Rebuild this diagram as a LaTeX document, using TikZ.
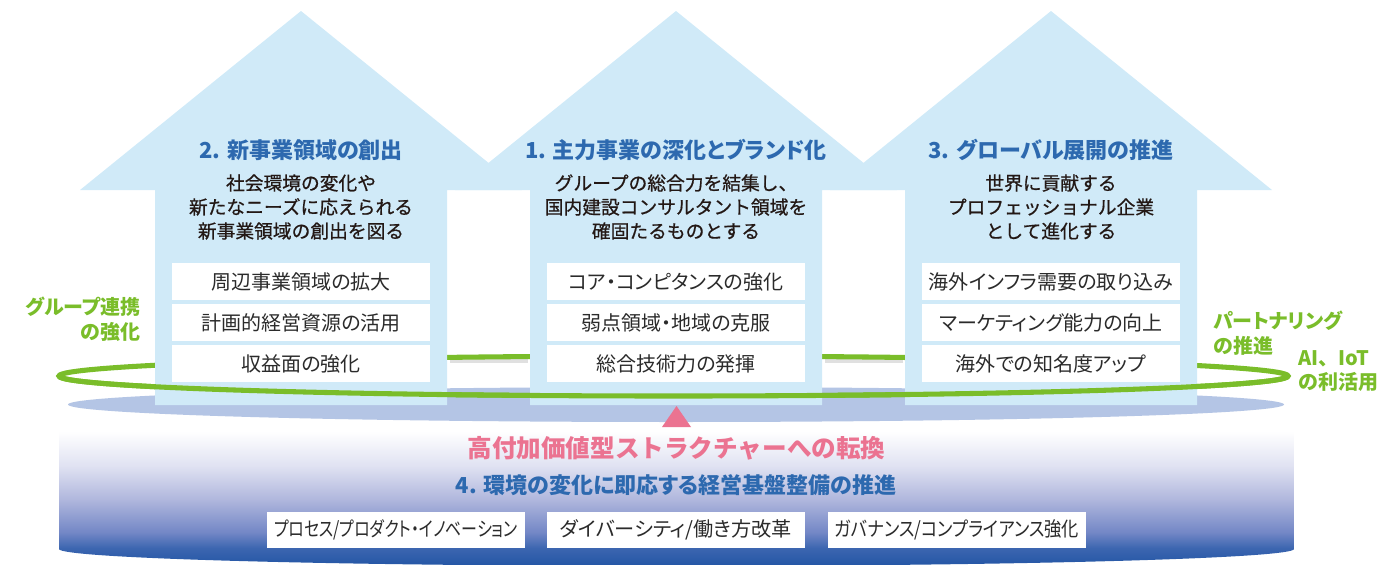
\documentclass[tikz,border=0pt]{standalone}
\usepackage{fontspec}
\usepackage{graphicx}
\setmainfont{Noto Sans CJK JP}
\newfontfamily\jpp{Noto Sans CJK JP}[RawFeature=+palt]
\newfontfamily\jpmed{Noto Sans CJK JP}[FakeBold=0.7]
\definecolor{housefill}{HTML}{D0EAF8}
\definecolor{lav}{HTML}{B4C5E5}
\definecolor{ringgreen}{HTML}{7ABD2A}
\definecolor{titleblue}{HTML}{2D69AF}
\definecolor{pinkc}{HTML}{EB7391}
\definecolor{ink}{HTML}{231815}
\definecolor{boxink}{HTML}{2B2B2B}
\definecolor{cyA}{RGB}{35,85,165}
\definecolor{cyB}{RGB}{60,102,176}
\definecolor{cyC}{RGB}{115,135,198}
\definecolor{cyD}{RGB}{176,183,221}
\definecolor{cyE}{RGB}{224,226,242}
\pgfdeclareverticalshading{cylshade}{100bp}{color(0bp)=(cyA); color(25bp)=(cyA); color(30bp)=(cyB); color(34.4bp)=(cyC); color(43.6bp)=(cyD); color(53bp)=(cyE); color(62.6bp)=(white); color(100bp)=(white)}
\tikzset{
  ring/.style={draw=ringgreen, line width=3.8pt, line cap=round},
  housetitle/.style={inner sep=0pt, text=titleblue, font=\jpp\bfseries\fontsize{16.5}{20}\selectfont},
  subtext/.style={inner sep=0pt, text=ink, align=center, font=\jpmed\fontsize{14.06}{18}\selectfont},
  itembox/.style={fill=white, minimum width=193.5pt, minimum height=27.6pt, inner sep=0pt, text=boxink, font=\jpp\fontsize{15}{18}\selectfont},
  greenlbl/.style={inner sep=0pt, text=ringgreen, font=\jpp\bfseries\fontsize{15}{18.5}\selectfont},
  pinklbl/.style={inner sep=0pt, text=pinkc, font=\bfseries\fontsize{18.45}{22}\selectfont},
  basetitle/.style={inner sep=0pt, text=titleblue, font=\jpp\bfseries\fontsize{16.5}{20}\selectfont},
  basebox/.style={fill=white, minimum width=193.5pt, minimum height=27pt, inner sep=0pt, text=boxink, font=\jpp\fontsize{15}{18}\selectfont},
  ringshadow/.style={draw=black, opacity=0.12, line width=3pt}
}
\begin{document}
\begin{tikzpicture}[x=0.75pt, y=-0.75pt]
\useasboundingbox (0,0) rectangle (1391,564);
% cylinder body
\shade[shading=cylshade] (59,404) -- (59,549) arc[start angle=180, end angle=0, x radius=617.5, y radius=17] -- (1294,404) arc[start angle=0, end angle=-180, x radius=617.5, y radius=17] -- cycle;
% cylinder top
\fill[lav] (676,404.5) ellipse[x radius=608, y radius=17.5];
% ring (back part) with soft shadow
\draw[ringshadow] (450,361) -- (528,361);
\draw[ringshadow] (825,361) -- (903,361);
\draw[ring] (673.5,376) ellipse[x radius=614.5, y radius=20];
% houses
\foreach \c in {301,676,1051}
  \fill[housefill] (\c,11) -- ++(221,179) -- ++(-75,0) -- ++(0,215) -- ++(-292,0) -- ++(0,-215) -- ++(-75,0) -- cycle;
% ring (front part)
\draw[ring] (59,376) arc[start angle=180, end angle=0, x radius=614.5, y radius=20];
% arrow triangle
\fill[pinkc] (662,427) -- (676.5,406) -- (691,427) -- cycle;

% house 2
\node[housetitle] (t2) at (301,150) {2. 新事業領域の創出};
\node[subtext] (s2) at (301,207) {社会環境の変化や\\新たなニーズに応えられる\\新事業領域の創出を図る};
\node[itembox] (b2a) at (301,281.5) {周辺事業領域の拡大};
\node[itembox] (b2b) at (301,322.5) {計画的経営資源の活用};
\node[itembox] (b2c) at (301,363.5) {収益面の強化};
% house 1
\node[housetitle] (t1) at (676,150) {1. 主力事業の深化とブランド化};
\node[subtext] (s1) at (676,207) {グループの総合力を結集し、\\国内建設コンサルタント領域を\\確固たるものとする};
\node[itembox] (b1a) at (676,281.5) {コア・コンピタンスの強化};
\node[itembox] (b1b) at (676,322.5) {弱点領域・地域の克服};
\node[itembox] (b1c) at (676,363.5) {総合技術力の発揮};
% house 3
\node[housetitle] (t3) at (1051,150) {3. グローバル展開の推進};
\node[subtext] (s3) at (1051,207) {世界に貢献する\\プロフェッショナル企業\\として進化する};
\node[itembox] (b3a) at (1051,281.5) {海外インフラ需要の取り込み};
\node[itembox] (b3b) at (1051,322.5) {マーケティング能力の向上};
\node[itembox] (b3c) at (1051,363.5) {海外での知名度アップ};

% green labels
\node[greenlbl, align=right, anchor=east] (g1) at (141,319.5) {グループ連携\\の強化};
\node[greenlbl, align=left, anchor=west] (g2) at (1213,333) {パートナリング\\の推進};
\node[greenlbl, align=left, anchor=west, font=\bfseries\fontsize{15}{17.5}\selectfont] (g3) at (1298,371) {AI、IoT\\の利活用};

% base
\node[pinklbl] (pk) at (676.5,448.5) {高付加価値型ストラクチャーへの転換};
\node[basetitle] (bt) at (676,485) {4. 環境の変化に即応する経営基盤整備の推進};
\node[basebox] (p1) at (396,530) {\resizebox{183pt}{\height}{プロセス/プロダクト・イノベーション}};
\node[basebox] (p2) at (676,530) {\resizebox{174pt}{\height}{ダイバーシティ/働き方改革}};
\node[basebox] (p3) at (957,530) {\resizebox{183pt}{\height}{ガバナンス/コンプライアンス強化}};
\end{tikzpicture}
\end{document}
